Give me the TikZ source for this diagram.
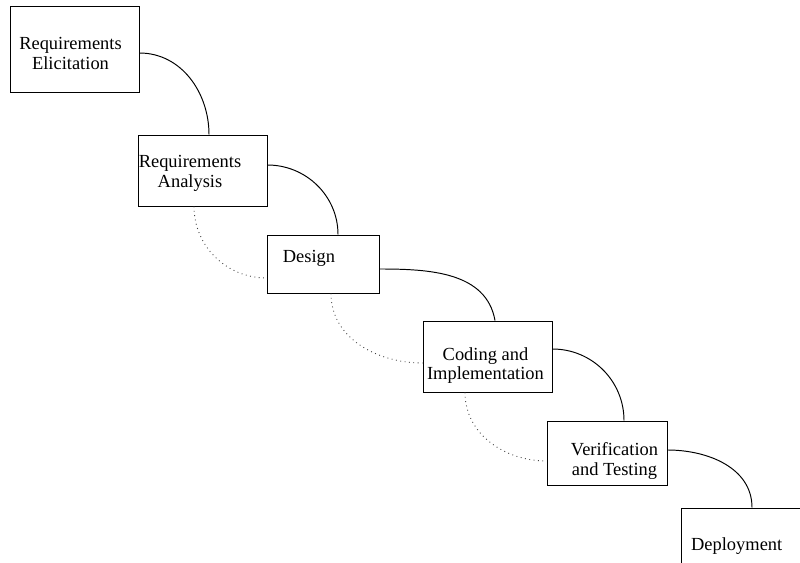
\documentclass[tikz,border=0pt]{standalone}
\usepackage{fontspec}
\setmainfont{Liberation Serif}
\usetikzlibrary{calc}

\tikzset{
  stage/.style={draw, line width=0.5pt, inner sep=0pt},
  stagetext/.style={align=center, inner sep=0pt, font=\fontsize{10.5}{11.3}\selectfont},
  link/.style={line width=0.55pt},
  backlink/.style={dotted, line width=0.5pt, black!75}
}

\begin{document}
\begin{tikzpicture}[x=0.02cm,y=0.02cm]

\useasboundingbox (0,0) rectangle (800,-563);
\clip (0,0) rectangle (800,-563);

\node[stage, minimum width=2.58cm, minimum height=1.72cm] (elic) at (74.5,-49) {};
\node[stage, minimum width=2.58cm, minimum height=1.42cm] (ana) at (202.5,-170.5) {};
\node[stage, minimum width=2.24cm, minimum height=1.16cm] (des) at (323,-264) {};
\node[stage, minimum width=2.58cm, minimum height=1.42cm] (cod) at (487.5,-356.5) {};
\node[stage, minimum width=2.40cm, minimum height=1.28cm] (ver) at (607,-453) {};
\node[stage, minimum width=2.58cm, minimum height=1.42cm] (dep) at (745.5,-543.5) {};

\node[stagetext] (elicT) at (70.5,-53.5) {Requirements\\Elicitation};
\node[stagetext] (anaT) at (190,-173.5) {Requirements\\Analysis};
\node[stagetext, anchor=base] (desT) at (309,-262.7) {Design};
\node[stagetext] (codT) at (485.5,-365.5) {Coding and\\Implementation};
\node[stagetext] (verT) at (614.5,-460.8) {Verification\\and Testing};
\node[stagetext, anchor=base] (depT) at (736.7,-550.7) {Deployment};

\draw[link] ($(elic.east)+(0,-4)$) to[out=0,in=90] ($(ana.north)+(6.5,0)$);
\draw[link] ($(ana.east)+(0,5.5)$) to[out=0,in=90] ($(des.north)+(15,0)$);
\draw[link] ($(des.east)+(0,-5)$) to[out=0,in=100] ($(cod.north)+(7.5,0)$);
\draw[link] ($(cod.east)+(0,7.5)$) to[out=0,in=90] ($(ver.north)+(17,0)$);
\draw[link] ($(ver.east)+(0,3)$) to[out=0,in=90] ($(dep.north)+(6.5,0)$);

\draw[backlink] ($(ana.south)+(-8.5,0)$) to[out=-90,in=180] ($(des.west)+(0,-14)$);
\draw[backlink] ($(des.south)+(8,0)$) to[out=-90,in=180] ($(cod.west)+(0,-6.5)$);
\draw[backlink] ($(cod.south)+(-22.5,0)$) to[out=-90,in=180] ($(ver.west)+(0,-8)$);

\end{tikzpicture}
\end{document}
